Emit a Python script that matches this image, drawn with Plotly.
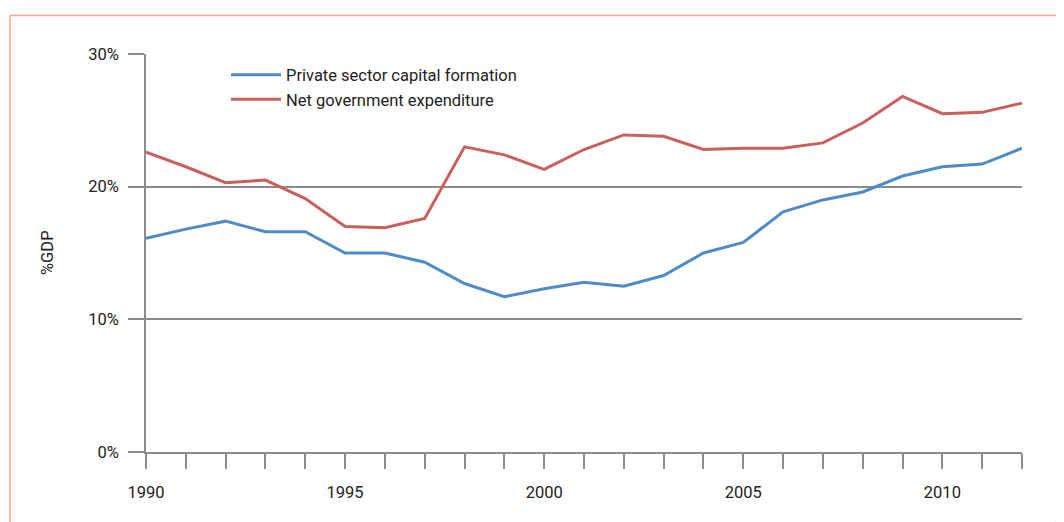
import plotly.graph_objects as go

years = list(range(1990, 2013))
private_capital = [16.1, 16.8, 17.4, 16.6, 16.6, 15.0, 15.0, 14.3, 12.7, 11.7, 12.3, 12.8,
                   12.5, 13.3, 15.0, 15.8, 18.1, 19.0, 19.6, 20.8, 21.5, 21.7, 22.9]
net_gov_exp = [22.6, 21.5, 20.3, 20.5, 19.1, 17.0, 16.9, 17.6, 23.0, 22.4, 21.3, 22.8,
               23.9, 23.8, 22.8, 22.9, 22.9, 23.3, 24.8, 26.8, 25.5, 25.6, 26.3]
series_names = ["Private sector capital formation", "Net government expenditure"]
y_ticks = [0, 10, 20, 30]
x_label_years = [1990, 1995, 2000, 2005, 2010]

FONT = "Roboto, 'DejaVu Sans', sans-serif"
GRID = "#8c8c8c"
BORDER = "#f6a68c"
FS = 16.5

fig = go.Figure()
fig.add_trace(go.Scatter(x=years, y=private_capital, mode="lines", name=series_names[0],
                         line=dict(color="#4f8bc6", width=3)))
fig.add_trace(go.Scatter(x=years, y=net_gov_exp, mode="lines", name=series_names[1],
                         line=dict(color="#c9605b", width=3)))

OFF = 8  # page body margin
W, H = 1064 - OFF, 522 - OFF
L, R, T, B = 146 - OFF, 42, 53.5 - OFF, 69.5
pw, ph = W - L - R, H - T - B


def px(x):
    return (x - OFF - L) / pw


def py(y):
    return (H - B - (y - OFF)) / ph


shapes = [
    dict(type="line", xref="paper", yref="paper", x0=px(10), y0=py(15), x1=px(1080), y1=py(15),
         line=dict(color=BORDER, width=1.5)),
    dict(type="line", xref="paper", yref="paper", x0=px(10), y0=py(15), x1=px(10), y1=py(540),
         line=dict(color=BORDER, width=1.5)),
    dict(type="line", xref="paper", yref="paper", x0=px(1056), y0=py(522), x1=px(1066), y1=py(511),
         line=dict(color=BORDER, width=1)),
]

fig.update_layout(
    width=W, height=H,
    margin=dict(l=L, r=R, t=T, b=B, autoexpand=False),
    paper_bgcolor="white", plot_bgcolor="white",
    font=dict(family=FONT, size=FS, color="#222"),
    showlegend=True,
    legend=dict(x=px(226), y=py(57), xanchor="left", yanchor="top",
                bgcolor="rgba(0,0,0,0)", font=dict(size=FS, color="#222"),
                tracegroupgap=0, itemwidth=50),
    shapes=shapes,
    annotations=[dict(text="%GDP", xref="paper", yref="paper", x=px(47), y=0.5,
                      textangle=-90, showarrow=False, font=dict(size=FS, color="#222"),
                      xanchor="center", yanchor="middle")],
)

fig.update_xaxes(
    range=[1990, 2012], showgrid=False, zeroline=False,
    showline=True, linecolor=GRID, linewidth=1.5,
    tickmode="array", tickvals=x_label_years, ticktext=[str(y) for y in x_label_years],
    ticks="outside", ticklen=15, tickwidth=1.5, tickcolor=GRID,
    ticklabelstandoff=9,
    minor=dict(tickmode="array", tickvals=years, ticks="outside", ticklen=15, tickwidth=1.5,
               tickcolor=GRID, showgrid=False),
    tickfont=dict(size=FS, color="#222"),
)
fig.update_yaxes(
    range=[0, 30], showgrid=True, gridcolor=GRID, gridwidth=1.5, zeroline=False,
    showline=True, linecolor=GRID, linewidth=1.5,
    tickmode="array", tickvals=y_ticks, ticktext=[f"{v}%" for v in y_ticks],
    ticks="outside", ticklen=16, tickwidth=1.5, tickcolor=GRID,
    ticklabelstandoff=6,
    tickfont=dict(size=FS, color="#222"),
)

fig.write_html("out.html")
